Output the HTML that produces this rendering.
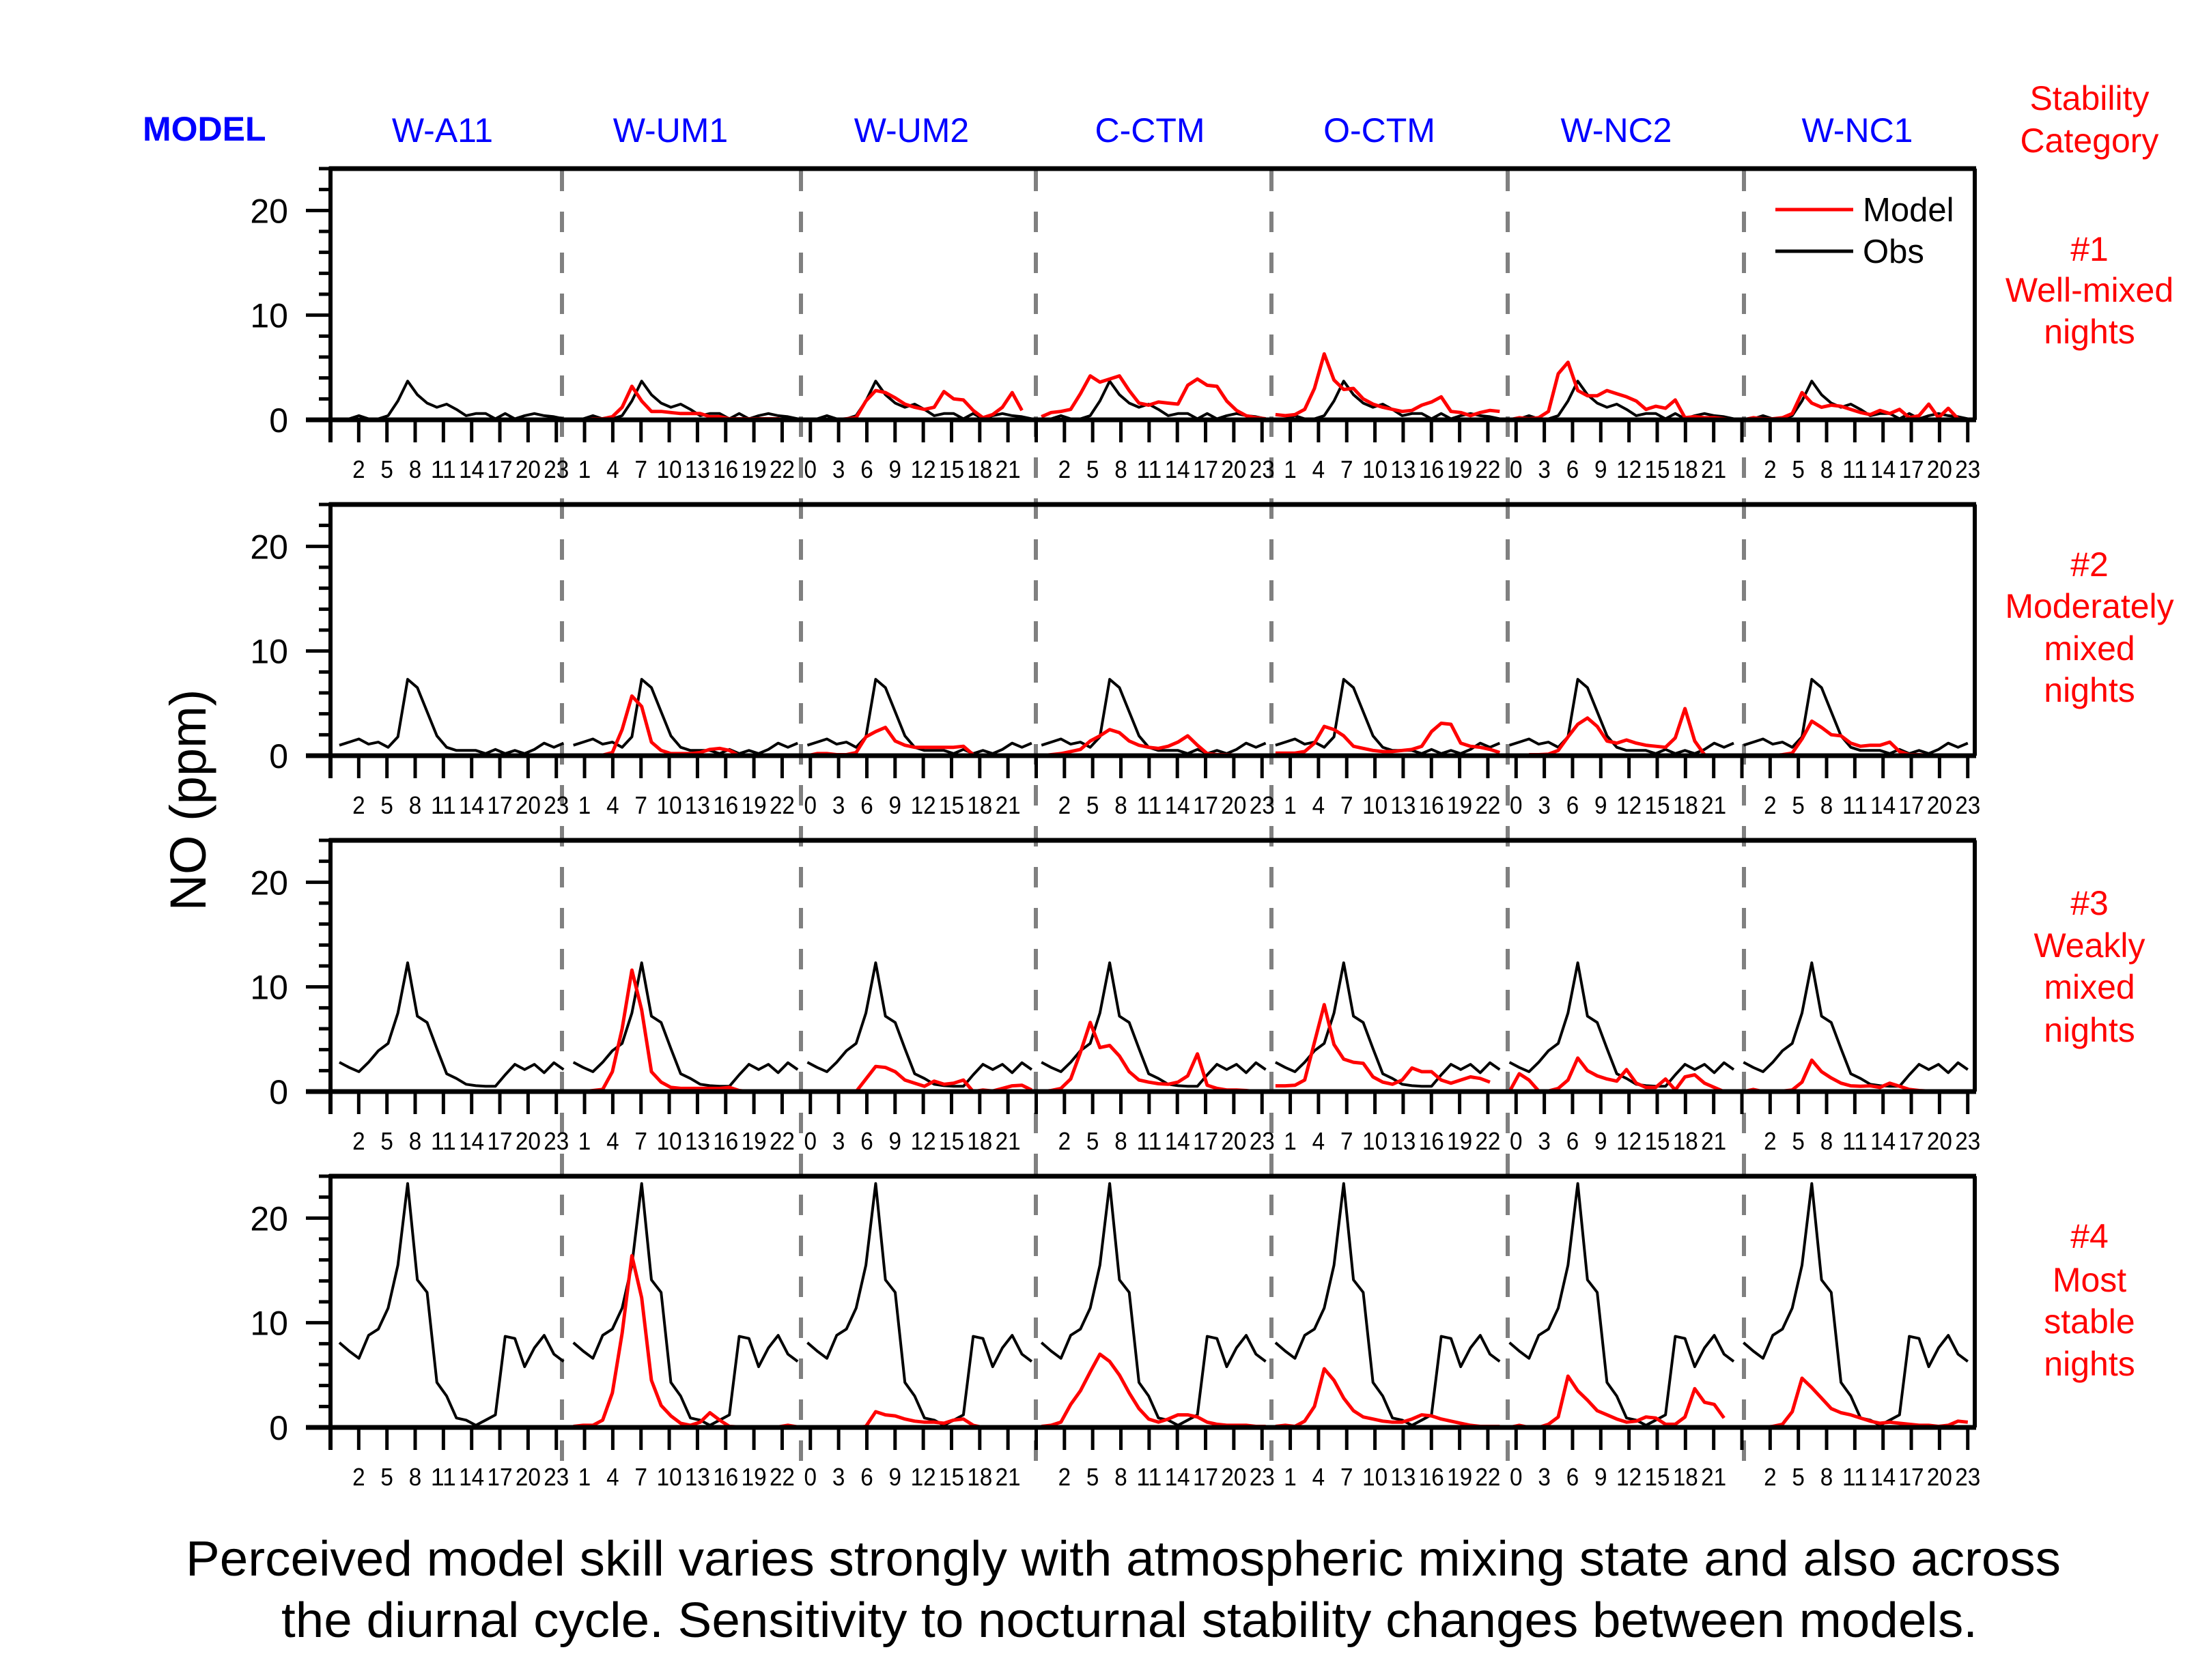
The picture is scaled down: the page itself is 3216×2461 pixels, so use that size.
<!DOCTYPE html>
<html><head><meta charset="utf-8"><style>
html,body{margin:0;padding:0;background:#fff;}
svg{display:block;font-family:"Liberation Sans",Arial,sans-serif;}
</style></head><body>
<svg id="chart" xmlns="http://www.w3.org/2000/svg" width="3216" height="2461" viewBox="0 0 3216 2461">
<rect width="3216" height="2461" fill="#fff"/>
<g id="frames"></g>
<g id="series"></g>
<g id="axes"></g>
<text x="209" y="206" font-size="50" font-weight="bold" fill="#0000ff">MODEL</text>
<g id="model-names" font-size="50" fill="#0000ff" text-anchor="middle"></g>
<g id="row-labels" font-size="50" fill="#ff0000" text-anchor="middle">
<text x="3060" y="161">Stability</text>
<text x="3060" y="223">Category</text>
</g>
<text transform="translate(301,1172) rotate(-90)" text-anchor="middle" font-size="74">NO (ppm)</text>
<g>
<line x1="2600" y1="307" x2="2714" y2="307" stroke="#ff0000" stroke-width="5"/>
<text x="2728" y="324" font-size="49">Model</text>
<line x1="2600" y1="368" x2="2714" y2="368" stroke="#000" stroke-width="5"/>
<text x="2728" y="385" font-size="49">Obs</text>
</g>
<text x="1645" y="2308" font-size="72" text-anchor="middle" textLength="2746" lengthAdjust="spacingAndGlyphs">Perceived model skill varies strongly with atmospheric mixing state and also across</text>
<text x="1654" y="2398" font-size="72" text-anchor="middle" textLength="2484" lengthAdjust="spacingAndGlyphs">the diurnal cycle. Sensitivity to nocturnal stability changes between models.</text>
</svg>
<script>
const models = ["W-A11","W-UM1","W-UM2","C-CTM","O-CTM","W-NC2","W-NC1"];
const rowNames = [["#1","Well-mixed","nights"],["#2","Moderately","mixed","nights"],["#3","Weakly","mixed","nights"],["#4","Most","stable","nights"]];
const yTicks = [0,10,20];
const xTickLabels = ["","2","5","8","11","14","17","20","23","1","4","7","10","13","16","19","22","0","3","6","9","12","15","18","21"];
// Observations (same in each model block), by stability category
const obs1 = [0,0.1,0.4,0.1,0.1,0.4,1.8,3.7,2.4,1.6,1.2,1.5,1.0,0.4,0.6,0.6,0.1,0.6,0.1,0.4,0.6,0.4,0.3,0.1];
const obs2 = [1.0,1.3,1.6,1.1,1.3,0.8,1.8,7.3,6.5,4.2,1.9,0.8,0.5,0.5,0.5,0.2,0.6,0.2,0.5,0.2,0.6,1.2,0.8,1.2];
const obs3 = [2.8,2.3,1.9,2.8,3.9,4.6,7.5,12.3,7.2,6.6,4.1,1.7,1.25,0.7,0.56,0.5,0.5,1.6,2.6,2.1,2.6,1.8,2.75,2.1];
const obs4 = [8.1,7.3,6.6,8.8,9.4,11.4,15.5,23.3,14.1,12.9,4.3,3.0,0.9,0.7,0.2,0.7,1.2,8.7,8.5,5.8,7.6,8.8,7.0,6.3];
// Model values per block (W-A11 has none)
const model1 = [null,
 [0,0,0.1,0.1,0.3,1.2,3.2,1.8,0.8,0.8,0.7,0.6,0.6,0.6,0.3,0.3,0.1,0.1,0.1,0.1,0.1,0.1,0,0],
 [0,0,0,0,0.1,0.2,1.8,2.8,2.6,2.1,1.5,1.2,1.0,1.2,2.7,2.0,1.9,0.9,0.2,0.5,1.2,2.6,0.9,null],
 [0.3,0.7,0.8,1.0,2.5,4.2,3.6,3.9,4.2,2.8,1.6,1.4,1.7,1.6,1.5,3.3,3.9,3.3,3.2,1.8,0.9,0.4,0.2,0.1],
 [0.5,0.4,0.5,1.0,3.0,6.3,3.8,2.9,3.0,2.0,1.5,1.2,1.0,0.8,0.9,1.4,1.7,2.2,0.8,0.7,0.4,0.7,0.9,0.8],
 [0,0.2,0.1,0.2,0.8,4.4,5.5,2.8,2.3,2.3,2.8,2.5,2.2,1.8,1.0,1.3,1.1,1.9,0.2,0.3,0.2,0.2,0.1,0],
 [0,0.2,0.1,0.1,0.2,0.6,2.6,1.6,1.2,1.4,1.3,1.0,0.7,0.5,0.9,0.6,1.0,0.2,0.4,1.5,0.2,1.1,0.1,0]];
const model2 = [null,
 [null,null,0,0.05,0.3,2.5,5.7,4.7,1.3,0.5,0.2,0.2,0.2,0.3,0.6,0.7,0.5,0,null,null,null,null,null,null],
 [0,0.2,0.2,0.1,0.1,0.3,1.8,2.3,2.7,1.4,1.0,0.8,0.8,0.8,0.8,0.8,0.9,0.1,null,null,null,null,null,null],
 [0,0.1,0.2,0.4,0.6,1.4,1.9,2.5,2.2,1.4,1.0,0.8,0.7,0.9,1.3,1.9,1.0,0.2,0.1,0.1,0.05,0.05,0,0],
 [0.25,0.25,0.25,0.4,1.2,2.8,2.5,1.9,0.9,0.7,0.5,0.4,0.4,0.5,0.6,0.9,2.3,3.1,3.0,1.2,0.9,0.8,0.6,0.3],
 [null,null,0.1,0.1,0.15,0.5,1.8,3.0,3.6,2.8,1.4,1.2,1.5,1.2,1.0,0.9,0.8,1.7,4.5,1.4,0.1,null,null,null],
 [null,null,0,0,0.1,0.25,1.6,3.3,2.7,2.0,1.9,1.2,0.9,1.0,1.0,1.3,0.4,0.1,0.1,0.05,0.05,null,null,null]];
const model3 = [null,
 [0,0,0.1,0.2,1.9,6.0,11.6,7.8,1.9,0.9,0.4,0.3,0.3,0.3,0.3,0.3,0.4,0.1,0,0,null,null,null,null],
 [0,0,0,0,0,0,1.2,2.4,2.3,1.9,1.1,0.8,0.5,1.0,0.7,0.8,1.1,0,0.15,0.05,0.3,0.55,0.6,0.15],
 [0,0.1,0.3,1.2,3.75,6.6,4.2,4.4,3.4,1.9,1.1,0.9,0.75,0.7,0.9,1.5,3.6,0.6,0.3,0.15,0.15,0.1,0,0],
 [0.55,0.55,0.6,1.1,4.7,8.3,4.5,3.1,2.8,2.7,1.4,0.9,0.7,1.1,2.25,1.9,1.9,1.1,0.8,1.1,1.4,1.25,0.9,null],
 [0,1.7,1.1,0.05,0.05,0.3,1.1,3.2,2.0,1.5,1.2,1.0,2.1,0.8,0.4,0.4,1.2,0.15,1.4,1.6,0.8,0.4,0,0],
 [0,0.2,0,0,0.05,0.15,0.9,3.0,1.9,1.3,0.8,0.55,0.5,0.55,0.4,0.8,0.5,0.2,0.1,0.05,0.05,0,0,0]];
const model4 = [null,
 [0.1,0.2,0.2,0.7,3.3,9.0,16.4,12.4,4.5,2.1,1.1,0.4,0.2,0.5,1.4,0.7,0.1,0.05,0.05,0.05,0.05,0.05,0.2,0.05],
 [0,0,0,0,0,0,0.1,1.5,1.2,1.1,0.8,0.6,0.5,0.5,0.4,0.7,0.8,0.2,0,0,0,0,0,0],
 [0.1,0.2,0.5,2.2,3.5,5.3,7.0,6.3,5.0,3.3,1.8,0.8,0.5,0.8,1.2,1.2,1.0,0.5,0.3,0.2,0.2,0.2,0.1,0.1],
 [0.1,0.2,0.1,0.6,2.0,5.6,4.5,2.8,1.6,1.0,0.8,0.6,0.5,0.5,0.8,1.2,1.1,0.8,0.6,0.4,0.2,0.1,0.1,0.1],
 [0,0.2,0,0,0.3,1.0,4.9,3.5,2.6,1.6,1.2,0.8,0.5,0.6,1.0,0.9,0.3,0.3,1.0,3.7,2.4,2.2,0.9,null],
 [0,0,0,0.1,0.3,1.5,4.7,3.8,2.8,1.8,1.4,1.2,0.9,0.6,0.4,0.5,0.4,0.3,0.2,0.2,0.1,0.2,0.6,0.5]];

const obsRows = [obs1,obs2,obs3,obs4];
const modelRows = [model1,model2,model3,model4];
const NS = "http://www.w3.org/2000/svg";
const L = 484, R = 2892, YMAX = 24, PH = 368;
const rowTop = r => 247 + 492*r;
const xOf = (b,h) => 497 + 14.28*(b*24+h);
const yOf = (r,v) => rowTop(r) + PH - v*(PH/YMAX);
function mk(tag, attrs, parent){ const e=document.createElementNS(NS,tag); for(const k in attrs) e.setAttribute(k,attrs[k]); parent.appendChild(e); return e; }
const frames=document.getElementById('frames'), series=document.getElementById('series'), axes=document.getElementById('axes');

const mn=document.getElementById('model-names');
const nameX=[648,982,1335,1684,2020,2367,2720];
models.forEach((m,i)=>{ const t=mk('text',{x:nameX[i],y:208},mn); t.textContent=m;
  
   });
const rl=document.getElementById('row-labels');
const rowBase=[[382,442,503],[844,905,967,1028],[1340,1402,1463,1526],[1828,1892,1953,2015]];
rowNames.forEach((lines,r)=>lines.forEach((s,j)=>{ const t=mk('text',{x:3060,y:rowBase[r][j]},rl); t.textContent=s;
  
   }));

for(let b=1;b<7;b++){
  const x=[823,1173,1517,1862,2208,2554][b-1];
  const d=mk('line',{x1:x,y1:250,x2:x,y2:2150,stroke:'#808080','stroke-width':6,'stroke-dasharray':'30 30'},frames);
  
  
}

for(let r=0;r<4;r++){
  const top=rowTop(r), z=top+PH;
  const g=mk('g',{},axes);
  
  
  mk('line',{x1:L-2,y1:top,x2:R+2,y2:top,stroke:'#000','stroke-width':7},g);
  mk('line',{x1:R,y1:top,x2:R,y2:z,stroke:'#000','stroke-width':6},g);
  mk('line',{x1:L,y1:top-3,x2:L,y2:z+33,stroke:'#000','stroke-width':6},g);
  mk('line',{x1:448,y1:z,x2:R+2,y2:z,stroke:'#000','stroke-width':7},g);
  for(let v=2; v<=24; v+=2){ if(v%10===0) continue; const y=yOf(r,v); mk('line',{x1:467,y1:y,x2:L,y2:y,stroke:'#000','stroke-width':5},g); }
  yTicks.forEach(v=>{ const y=yOf(r,v); mk('line',{x1:448,y1:y,x2:L,y2:y,stroke:'#000','stroke-width':5},g);
    const t=mk('text',{x:422,y:y+18,'text-anchor':'end','font-size':50},g); t.textContent=v;
    
     });
  for(let k=0;k<=58;k++){ const x=L+41.34*k;
    mk('line',{x1:x,y1:z,x2:x,y2:z+33,stroke:'#000','stroke-width':5},g);
    const s=xTickLabels[k%25]; if(!s) continue;
    const t=mk('text',{x:x,y:z+85,'text-anchor':'middle','font-size':36,textLength:(s.length*18.5),lengthAdjust:'spacingAndGlyphs'},g);
    t.textContent=s;
    
     }
  for(let b=0;b<7;b++){
    const o=obsRows[r];
    let d=''; o.forEach((v,h)=>{ d+=(h?'L':'M')+xOf(b,h).toFixed(1)+' '+yOf(r,v).toFixed(1); });
    const p=mk('path',{d:d,fill:'none',stroke:'#000','stroke-width':4,'stroke-linejoin':'round'},series);
    
    
    const m=modelRows[r][b]; if(!m) continue;
    let dm='', pen=false; m.forEach((v,h)=>{ if(v===null){pen=false;return;} dm+=(pen?'L':'M')+xOf(b,h).toFixed(1)+' '+yOf(r,v).toFixed(1); pen=true; });
    const q=mk('path',{d:dm,fill:'none',stroke:'#ff0000','stroke-width':5,'stroke-linejoin':'round'},series);
    
    
  }
}
</script>
</body></html>
